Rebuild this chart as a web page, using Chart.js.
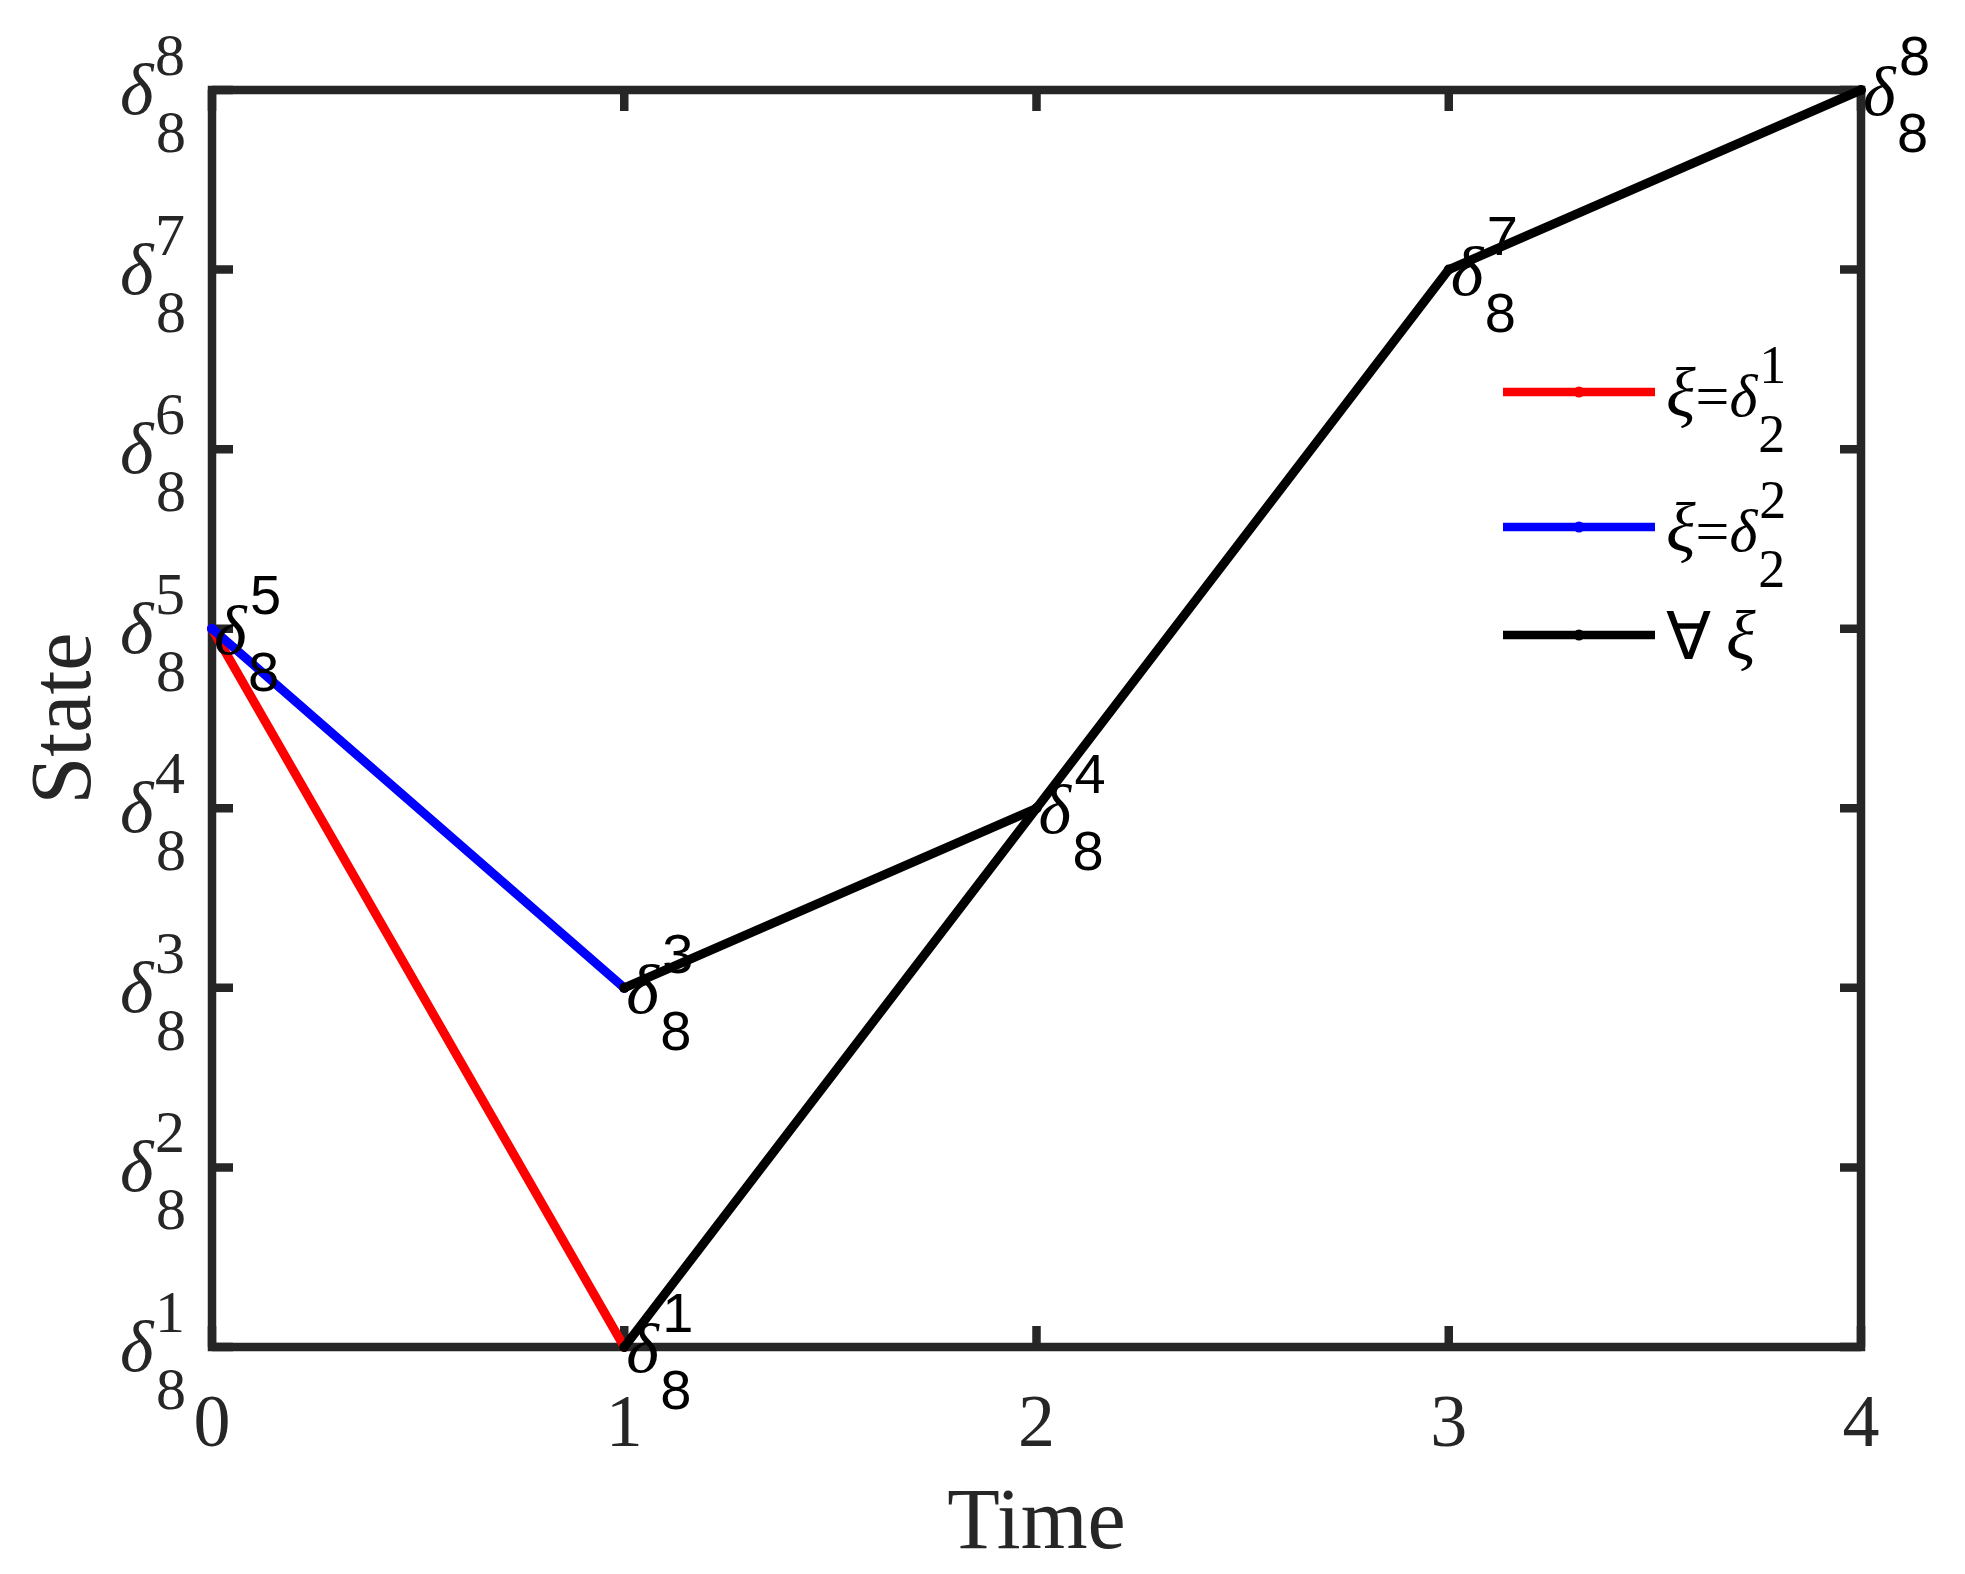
<!DOCTYPE html>
<html>

<head>
  <script src="https://cdn.jsdelivr.net/npm/chart.js@4.4.0/dist/chart.umd.min.js"></script>
  <style>
    body { margin: 0; background: #fff; }
  </style>
</head>

<body>
  <canvas id="myChart" width="1965" height="1574"></canvas>
  <script type="text/javascript">
    // ticks
    var timeTicks = [0, 1, 2, 3, 4];
    var stateTicks = [1, 2, 3, 4, 5, 6, 7, 8];
    var stateSub = '8';

    // series
    var redTime = [0, 1];
    var redState = [5, 1];
    var blueTime = [0, 1];
    var blueState = [5, 3];
    var blackTime = [1, 2, 3, 4];
    var blackState = [1, 4, 7, 8];
    var black2Time = [1, 2];
    var black2State = [3, 4];

    // legend text (main, superscript, subscript)
    var legendMain = ['ξ=δ', 'ξ=δ', '∀ ξ'];
    var legendSup = ['1', '2', ''];
    var legendSub = ['2', '2', ''];

    // labelled points
    var markTime = [0, 1, 1, 2, 3, 4];
    var markState = [5, 3, 1, 4, 7, 8];

    var axisColor = '#262626';
    var serif = '"Liberation Serif", "Times New Roman", serif';
    var sans = '"Liberation Sans", Arial, sans-serif';

    function pts(xs, ys) {
      return xs.map(function(x, i) { return { x: x, y: ys[i] }; });
    }

    function lineSet(label, color, xs, ys, order) {
      return {
        label: label,
        data: pts(xs, ys),
        borderColor: color,
        backgroundColor: color,
        borderWidth: 9,
        pointRadius: 5,
        pointBorderWidth: 0,
        pointBackgroundColor: color,
        borderJoinStyle: 'round',
        borderCapStyle: 'round',
        tension: 0,
        clip: false,
        order: order
      };
    }

    // draw text runs; italic (and a bit bigger) for greek letters
    function drawRuns(ctx, text, x, y, size) {
      for (var i = 0; i < text.length; i++) {
        var ch = text[i];
        var f;
        if (ch === 'ξ') f = 'italic ' + Math.round(size * 1.15) + 'px ';
        else if (ch === 'δ') f = 'italic ' + size + 'px ';
        else if (ch === '∀') f = Math.round(size * 1.1) + 'px ';
        else f = size + 'px ';
        ctx.font = f + serif;
        ctx.fillText(ch, x, y);
        x += ctx.measureText(ch).width;
      }
      return x;
    }

    var framePlugin = {
      id: 'frame',
      beforeDatasetsDraw: function(chart) {
        var ctx = chart.ctx;
        var a = chart.chartArea;
        var xs = chart.scales.x, ys = chart.scales.y;
        ctx.save();
        ctx.strokeStyle = axisColor;
        ctx.lineWidth = 8.5;
        ctx.lineCap = 'square';
        ctx.strokeRect(a.left, a.top, a.right - a.left, a.bottom - a.top);
        var tl = 21;
        ctx.beginPath();
        timeTicks.forEach(function(t) {
          var px = xs.getPixelForValue(t);
          ctx.moveTo(px, a.bottom); ctx.lineTo(px, a.bottom - tl);
          ctx.moveTo(px, a.top); ctx.lineTo(px, a.top + tl);
        });
        stateTicks.forEach(function(s) {
          var py = ys.getPixelForValue(s);
          ctx.moveTo(a.left, py); ctx.lineTo(a.left + tl, py);
          ctx.moveTo(a.right, py); ctx.lineTo(a.right - tl, py);
        });
        ctx.lineCap = 'butt';
        ctx.stroke();
        ctx.restore();
      },
      afterDraw: function(chart) {
        var ctx = chart.ctx;
        var a = chart.chartArea;
        var xs = chart.scales.x, ys = chart.scales.y;
        ctx.save();
        ctx.fillStyle = axisColor;
        ctx.textBaseline = 'alphabetic';

        // x tick labels
        ctx.textAlign = 'center';
        ctx.font = '74px ' + serif;
        timeTicks.forEach(function(t) {
          ctx.fillText(String(t), xs.getPixelForValue(t), a.bottom + 99);
        });

        // y tick labels: delta with sup / sub
        ctx.textAlign = 'left';
        stateTicks.forEach(function(s) {
          var py = ys.getPixelForValue(s);
          ctx.font = 'italic 72px ' + serif;
          ctx.fillText('δ', a.left - 92, py + 24);
          ctx.font = '60px ' + serif;
          ctx.fillText(String(s), a.left - 57, py - 15);
          ctx.fillText(stateSub, a.left - 56, py + 62);
        });

        // axis titles
        ctx.font = '86px ' + serif;
        ctx.textAlign = 'center';
        ctx.fillText('Time', (a.left + a.right) / 2, a.bottom + 201);
        ctx.save();
        ctx.translate(90, (a.top + a.bottom) / 2);
        ctx.rotate(-Math.PI / 2);
        ctx.fillText('State', 0, 0);
        ctx.restore();

        // point labels
        ctx.fillStyle = '#000';
        ctx.textAlign = 'left';
        markTime.forEach(function(t, i) {
          var px = xs.getPixelForValue(t);
          var py = ys.getPixelForValue(markState[i]);
          ctx.font = 'italic 70px ' + serif;
          ctx.fillText('δ', px + 2, py + 25);
          ctx.font = '56px ' + sans;
          ctx.fillText(String(markState[i]), px + 38, py - 15);
          ctx.fillText(stateSub, px + 36, py + 62);
        });

        // legend
        var rows = [392, 527, 635];
        chart.data.datasets.slice(0, 3).forEach(function(ds, i) {
          var y = rows[i];
          ctx.strokeStyle = ds.borderColor;
          ctx.lineWidth = 8.5;
          ctx.beginPath();
          ctx.moveTo(1503, y); ctx.lineTo(1655, y);
          ctx.stroke();
          ctx.fillStyle = ds.borderColor;
          ctx.beginPath();
          ctx.arc(1579, y, 5.5, 0, Math.PI * 2);
          ctx.fill();
          ctx.fillStyle = '#000';
          var endX = drawRuns(ctx, legendMain[i], 1666, y + 24, 60);
          if (legendSup[i]) {
            ctx.font = '54px ' + serif;
            ctx.fillText(legendSup[i], endX + 2, y - 9);
            ctx.fillText(legendSub[i], endX + 1, y + 60);
          }
        });
        ctx.restore();
      }
    };

    var ctx = document.getElementById('myChart').getContext('2d');
    var chart = new Chart(ctx, {
      type: 'line',
      data: {
        datasets: [
          lineSet('ξ=δ21', '#ff0000', redTime, redState, 3),
          lineSet('ξ=δ22', '#0000ff', blueTime, blueState, 2),
          lineSet('∀ ξ', '#000000', blackTime, blackState, 0),
          lineSet('', '#000000', black2Time, black2State, 1)
        ]
      },
      options: {
        responsive: false,
        animation: false,
        devicePixelRatio: 1,
        layout: { padding: { left: 212, right: 104, top: 90, bottom: 227 } },
        scales: {
          x: { type: 'linear', min: 0, max: 4, display: false },
          y: { type: 'linear', min: 1, max: 8, display: false }
        },
        plugins: {
          legend: { display: false },
          tooltip: { enabled: false }
        }
      },
      plugins: [framePlugin]
    });
  </script>
</body>

</html>
